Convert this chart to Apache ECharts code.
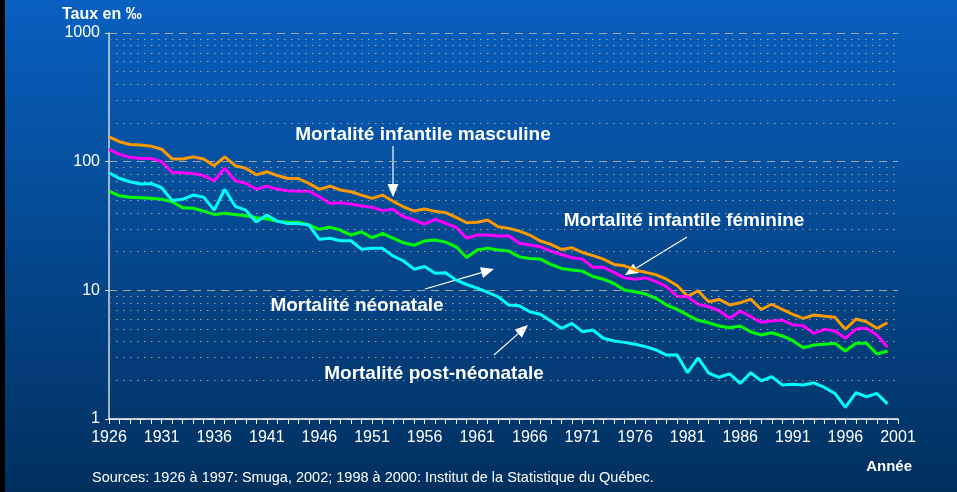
<!DOCTYPE html>
<html>
<head>
<meta charset="utf-8">
<script src="https://cdn.jsdelivr.net/npm/echarts@6.0.0/dist/echarts.min.js"></script>
<style>
  html, body { margin: 0; padding: 0; }
  #chart { width: 957px; height: 492px; }
</style>
</head>
<body>
<div id="chart"></div>
<script>
// years on the axis (2001 closes the axis, no data)
const years = [];
for (let y = 1926; y <= 2001; y++) years.push(String(y));

// taux en pour mille, 1926 -> 2000
const masculine = [
  156, 143, 136, 135, 132, 125, 105, 105, 109, 105, 93, 109, 93, 89, 79, 83.5, 78, 74, 74,
  67.8, 60.9, 64.6, 60.2, 58.4, 55, 51.9, 55, 49.2, 44.6, 41.3, 42.8, 41.1, 40.1, 36.9, 33.5, 33.8, 35.2, 31.2,
  30.3, 28.9, 26.9, 24.2, 22.8, 20.8, 21.4, 19.7, 18.6, 17.5, 15.9, 15.5, 14.4, 13.8, 13.2, 12.2, 10.9, 9.0, 9.9,
  8.15, 8.5, 7.7, 8.0, 8.55, 7.1, 7.8, 7.1, 6.5, 6.06, 6.43, 6.3, 6.17, 4.98, 5.98, 5.7, 5.07, 5.6
];
const feminine = [
  124.6, 114, 108, 106, 106, 100, 82.6, 82, 81, 78, 71, 89, 71, 68, 61, 64.6, 61, 59.4, 59,
  59, 53.4, 47.4, 48, 46.8, 45.2, 44.2, 41.6, 42.6, 37.3, 35.2, 32.7, 35.6, 33.2, 30.9, 25.4, 26.9, 26.9, 26.4,
  26.6, 23.2, 22.5, 21.8, 20.2, 19.0, 17.9, 17.5, 15.1, 15.1, 13.8, 12.5, 12.2, 12.5, 11.7, 10.7, 9.0, 8.9, 7.8,
  7.46, 6.94, 6.06, 6.91, 6.24, 5.64, 5.77, 5.88, 5.38, 5.31, 4.63, 4.98, 4.83, 4.24, 5.0, 5.07, 4.49, 3.61
];
const neonatale = [
  59, 54.3, 52.8, 52.5, 51.9, 51, 48.8, 43.8, 43.4, 41.3, 38.9, 39.7, 38.9, 38, 36.6, 35.8, 34.5, 33.8, 33.8,
  32.2, 29.8, 30.9, 29.4, 26.9, 28.5, 25.6, 27.7, 25.4, 23.4, 22.4, 24.2, 24.6, 23.7, 21.8, 18.0, 20.6, 21.2, 20.6,
  20.2, 18.2, 17.7, 17.5, 15.9, 14.8, 14.4, 14.1, 12.8, 12.2, 11.3, 10.05, 9.75, 9.36, 8.67, 7.69, 7.12, 6.43, 5.85,
  5.6, 5.28, 5.12, 5.28, 4.77, 4.49, 4.68, 4.42, 4.06, 3.58, 3.76, 3.81, 3.88, 3.38, 3.88, 3.88, 3.2, 3.38
];
const postNeonatale = [
  82, 74, 69.8, 67, 67.8, 62.7, 50, 51, 55, 53, 42, 61, 45, 42, 34, 38.5, 34.5, 33, 33,
  32.2, 24.9, 25.4, 24.3, 24.3, 20.9, 21.2, 21.2, 18.5, 16.9, 14.6, 15.3, 13.6, 13.7, 12.0, 11.1, 10.4, 9.65, 8.9,
  7.69, 7.59, 6.82, 6.51, 5.77, 5.07, 5.54, 4.77, 4.92, 4.24, 4.04, 3.94, 3.81, 3.65, 3.44, 3.14, 3.14, 2.29, 2.99,
  2.27, 2.11, 2.24, 1.89, 2.29, 1.98, 2.13, 1.84, 1.86, 1.84, 1.91, 1.76, 1.58, 1.23, 1.60, 1.49, 1.58, 1.31
];

// dotted minor grid values of the log scale
const minorLines = [2, 3, 4, 5, 6, 7, 8, 9, 20, 30, 40, 50, 60, 70, 80, 90, 200, 300, 400, 500, 600, 700, 800, 900];

const FONT = '"Liberation Sans", Arial, sans-serif';

// white arrow: a line with a filled head at (x2, y2)
function arrow(x1, y1, x2, y2) {
  const a = Math.atan2(y2 - y1, x2 - x1);
  const len = 13, half = 5.5;
  const bx = x2 - len * Math.cos(a), by = y2 - len * Math.sin(a);
  const px = -Math.sin(a) * half, py = Math.cos(a) * half;
  return [
    { type: 'line', shape: { x1: x1, y1: y1, x2: bx, y2: by }, style: { stroke: '#fff', lineWidth: 1.2 } },
    { type: 'polygon', shape: { points: [[x2, y2], [bx + px, by + py], [bx - px, by - py]] }, style: { fill: '#fff' } }
  ];
}

function label(text, x, y, size, bold, align) {
  return {
    type: 'text', x: x, y: y,
    style: {
      text: text, fill: '#fff', font: (bold ? 'bold ' : '') + size + 'px ' + FONT,
      textAlign: align || 'center', textVerticalAlign: 'middle'
    }
  };
}

const chart = echarts.init(document.getElementById('chart'));

chart.setOption({
  animation: false,
  backgroundColor: new echarts.graphic.LinearGradient(0, 0, 0, 1, [
    { offset: 0, color: '#0860c0' },
    { offset: 1, color: '#01305e' }
  ]),
  grid: { left: 109, right: 59, top: 33, bottom: 73 },
  xAxis: {
    type: 'category',
    data: years,
    boundaryGap: false,
    axisLine: { lineStyle: { color: '#ffffff', width: 1.5 } },
    axisTick: { interval: 0, length: 5, lineStyle: { color: '#ffffff' } },
    axisLabel: { interval: 4, color: '#fff', fontFamily: FONT, fontSize: 16, margin: 11 },
    splitLine: { show: false }
  },
  yAxis: {
    type: 'log',
    logBase: 10,
    min: 1,
    max: 1000,
    axisLine: { show: true, lineStyle: { color: '#d8d8d8', width: 1.5 } },
    axisTick: { show: true, length: 4, lineStyle: { color: '#d8d8d8' } },
    axisLabel: { color: '#fff', fontFamily: FONT, fontSize: 16, margin: 9, formatter: v => String(Math.round(v)) },
    splitLine: { show: true, lineStyle: { color: '#a4a4a4', type: [8, 6], width: 1 } },
    minorTick: { show: false },
    minorSplitLine: { show: false }
  },
  series: [
    {
      type: 'line', data: [], z: 1, silent: true,
      markLine: {
        silent: true, symbol: 'none', label: { show: false },
        lineStyle: { color: '#a0a0a0', type: [1.5, 5.5], width: 1 },
        data: minorLines.map(v => ({ yAxis: v }))
      }
    },
    { name: 'masculine', type: 'line', data: masculine, showSymbol: false, lineStyle: { color: '#ff9900', width: 3 } },
    { name: 'feminine', type: 'line', data: feminine, showSymbol: false, lineStyle: { color: '#ff00ff', width: 3 } },
    { name: 'neonatale', type: 'line', data: neonatale, showSymbol: false, lineStyle: { color: '#00ff00', width: 3 } },
    { name: 'postNeonatale', type: 'line', data: postNeonatale, showSymbol: false, lineStyle: { color: '#00ffff', width: 3 } }
  ],
  graphic: [
    { type: 'rect', shape: { x: 0, y: 0, width: 5, height: 492 }, style: { fill: '#000' } },
    label('Taux en ‰', 62, 15, 16, true, 'left'),
    label('Année', 912, 467, 15, true, 'right'),
    label('Sources: 1926 à 1997: Smuga, 2002; 1998 à 2000: Institut de la Statistique du Québec.', 92, 478, 14.5, false, 'left'),
    label('Mortalité infantile masculine', 423, 135, 19, true),
    label('Mortalité infantile féminine', 684, 221, 19, true),
    label('Mortalité néonatale', 357, 306, 19, true),
    label('Mortalité post-néonatale', 434, 374, 19, true),
    ...arrow(393, 146, 393, 197),
    ...arrow(687, 237, 625, 275),
    ...arrow(425, 289, 494, 269),
    ...arrow(494, 355, 528, 325)
  ]
});
</script>
</body>
</html>
